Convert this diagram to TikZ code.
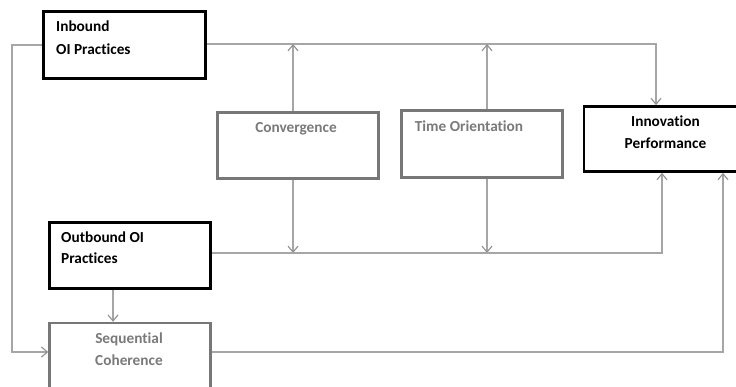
\documentclass[tikz,border=0pt]{standalone}
\usepackage{fontspec}
\setmainfont[Ligatures=NoCommon]{Carlito}
\usetikzlibrary{arrows.meta,calc}
\definecolor{boxgray}{HTML}{777777}
\definecolor{txtgray}{HTML}{7A7A7A}
\definecolor{linegray}{HTML}{A6A6A6}
\definecolor{tipgray}{HTML}{909090}
\tikzset{
  blackbox/.style={draw=black, line width=2.8pt, fill=white, inner sep=0pt},
  graybox/.style={draw=boxgray, line width=2.4pt, fill=white, inner sep=0pt},
  lbl/.style={font=\bfseries\fontsize{15.3}{21.5}\selectfont, inner sep=0pt},
  conn/.style={draw=linegray, line width=1.2pt, -{Straight Barb[length=6pt,width=10pt,line width=1.1pt,color=tipgray]}}
}
\begin{document}
\begin{tikzpicture}[x=1pt,y=-1pt]
\useasboundingbox (0,0) rectangle (736,387);
\clip (0,0) rectangle (736,387);
% boxes
\node[blackbox, minimum width=162pt, minimum height=67pt] (in) at (124.5,45) {};
\node[graybox, minimum width=161pt, minimum height=66pt] (conv) at (298,145.5) {};
\node[graybox, minimum width=161pt, minimum height=67pt] (time) at (482,144) {};
\node[blackbox, minimum width=210pt, minimum height=65pt] (innov) at (689,139) {};
\node[blackbox, minimum width=161pt, minimum height=66pt] (out) at (130,255.5) {};
\node[graybox, minimum width=161pt, minimum height=90pt] (seq) at (130,368) {};
% labels
\node[lbl, anchor=base west] (inT1) at (56,32) {Inbound};
\node[lbl, anchor=base west] (inT2) at (56,55) {OI Practices};
\node[lbl, anchor=base, text=txtgray] (convT) at (296,132.5) {Convergence};
\node[lbl, anchor=base, text=txtgray] (timeT) at (469,131.5) {Time Orientation};
\node[lbl, anchor=base] (innovT1) at (665.5,127) {Innovation};
\node[lbl, anchor=base] (innovT2) at (665.5,149) {Performance};
\node[lbl, anchor=base west] (outT1) at (61,242.5) {Outbound OI};
\node[lbl, anchor=base west] (outT2) at (61,264) {Practices};
\node[lbl, anchor=base, text=txtgray] (seqT1) at (129,343.5) {Sequential};
\node[lbl, anchor=base, text=txtgray] (seqT2) at (129,365.5) {Coherence};
% coordinates
\coordinate (tr) at (656,44);
\coordinate (mr) at (662,253);
\coordinate (br) at (723,352);
\coordinate (bl) at (12,352);
\coordinate (cx) at (293,0);
\coordinate (tx) at (487,0);
% connectors
\draw[conn] (in.west) -- (bl |- in.west) -- (bl) -- (seq.west |- bl);
\draw[conn] (in.east |- tr) -- (tr) -- (tr |- innov.north);
\draw[conn] (cx |- conv.north) -- (cx |- tr);
\draw[conn] (tx |- time.north) -- (tx |- tr);
\draw[conn] (cx |- conv.south) -- (cx |- mr);
\draw[conn] (tx |- time.south) -- (tx |- mr);
\draw[conn] (out.east |- mr) -- (mr) -- (mr |- innov.south);
\draw[conn] ($(out.south)+(-17,0)$) -- ($(seq.north)+(-17,0)$);
\draw[conn] (seq.east |- br) -- (br) -- (br |- innov.south);
\end{tikzpicture}
\end{document}
